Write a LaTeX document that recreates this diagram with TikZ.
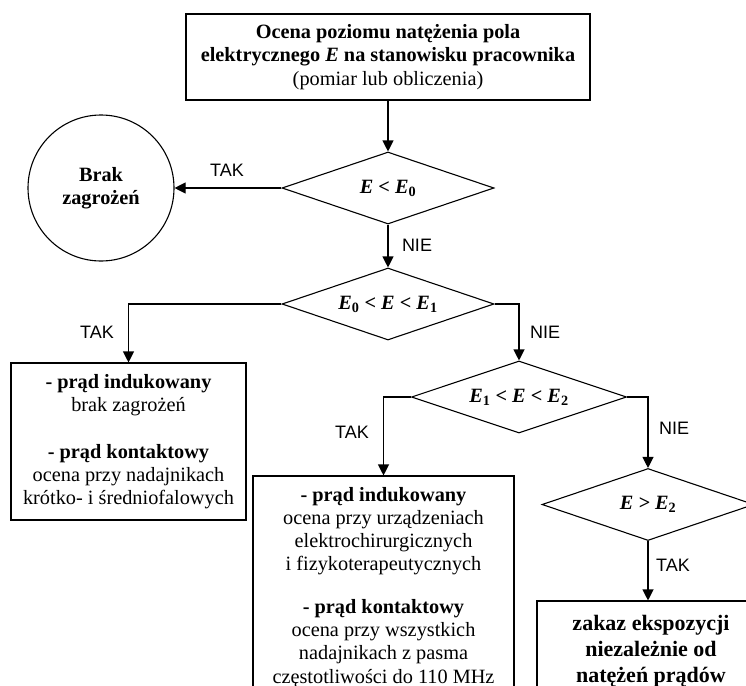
\documentclass[tikz,border=0pt]{standalone}
\usepackage{fontspec}
\setmainfont{Liberation Serif}
\newfontfamily\labsans{Liberation Sans}
\usetikzlibrary{shapes.geometric,arrows.meta}
\newcommand{\sbs}[1]{\textsubscript{\upshape #1}}
\tikzset{
  base/.style={draw, line width=1.1pt, font=\fontsize{20.3}{23.3}\selectfont, align=center, inner sep=0pt},
  boxnode/.style={base, rectangle},
  decision/.style={base, diamond, aspect=3, minimum width=212pt, minimum height=72pt, font=\fontsize{20.3}{23.3}\selectfont\bfseries\itshape},
  endnode/.style={base, circle, minimum size=146pt},
  conn/.style={line width=1.1pt, -{Triangle[length=11pt,width=11pt]}},
  lab/.style={font=\labsans\fontsize{18}{20}\selectfont, inner sep=0pt}
}
\begin{document}
\begin{tikzpicture}[x=1pt,y=-1pt]
\useasboundingbox (0,0) rectangle (746,685);
\clip (0,0) rectangle (746,685);
\node[boxnode, minimum width=404pt, minimum height=86pt] (top) at (388,57)
  {\textbf{Ocena poziomu natężenia pola}\\ \textbf{elektrycznego \textit{E} na stanowisku pracownika}\\ (pomiar lub obliczenia)};
\node[decision] (d1) at (388,188) {E < E\sbs{0}};
\node[endnode] (circ) at (101,188) {\textbf{Brak}\\ \textbf{zagrożeń}};
\node[decision] (d2) at (388,304) {E\sbs{0} < E < E\sbs{1}};
\node[boxnode, minimum width=235pt, minimum height=157pt] (lbox) at (128.5,441.5)
  {\textbf{- prąd indukowany}\\ brak zagrożeń\\[23.3pt] \textbf{- prąd kontaktowy}\\ ocena przy nadajnikach\\ krótko- i średniofalowych};
\node[decision, minimum width=215pt] (d3) at (519,397) {E\sbs{1} < E < E\sbs{2}};
\node[boxnode, minimum width=261pt, minimum height=222pt] (mbox) at (383.5,587)
  {\textbf{- prąd indukowany}\\ ocena przy urządzeniach\\ elektrochirurgicznych\\ i fizykoterapeutycznych\\[19pt] \textbf{- prąd kontaktowy}\\ ocena przy wszystkich\\ nadajnikach z pasma\\ częstotliwości do 110 MHz};
\node[decision] (d4) at (648,504.5) {E > E\sbs{2}};
\node[boxnode, minimum width=228pt, minimum height=100pt, font=\fontsize{22}{26}\selectfont\bfseries] (zakaz) at (651,651)
  {zakaz ekspozycji\\ niezależnie od\\ natężeń prądów};
\draw[conn] (top.south) -- (d1.north);
\draw[conn] (d1.west) -- (circ.east);
\draw[conn] (d1.south) -- (d2.north);
\draw[conn] (d2.west) -| (lbox.north);
\draw[conn] (d2.east) -| (d3.north);
\draw[conn] (d3.west) -| (mbox.north);
\draw[conn] (d3.east) -| (d4.north);
\draw[conn] (d4.south) -- (d4.south |- zakaz.north);
\node[lab] (l1) at (227,170) {TAK};
\node[lab] (l2) at (417,245) {NIE};
\node[lab] (l3) at (97,332) {TAK};
\node[lab] (l4) at (545,332) {NIE};
\node[lab] (l5) at (352,432) {TAK};
\node[lab] (l6) at (674,428) {NIE};
\node[lab] (l7) at (673,565) {TAK};
\end{tikzpicture}
\end{document}
